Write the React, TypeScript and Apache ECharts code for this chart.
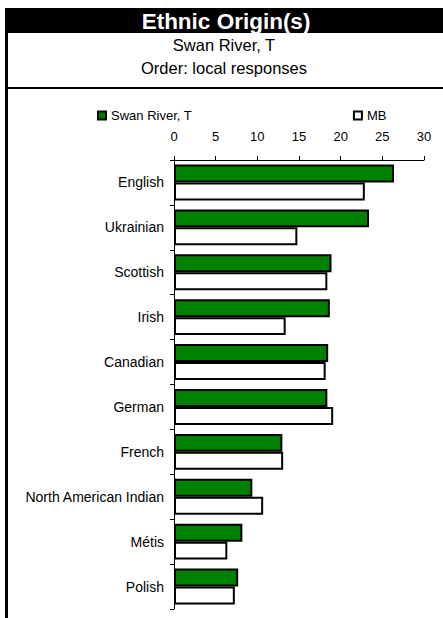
import React, { useEffect, useRef } from "react";
import * as echarts from "echarts";

const categories = [
  "English",
  "Ukrainian",
  "Scottish",
  "Irish",
  "Canadian",
  "German",
  "French",
  "North American Indian",
  "Métis",
  "Polish",
];
const localValues = [26.4, 23.4, 18.9, 18.7, 18.5, 18.4, 13.0, 9.4, 8.2, 7.7];
const mbValues = [22.9, 14.8, 18.4, 13.4, 18.2, 19.1, 13.1, 10.7, 6.4, 7.3];
const seriesNames = ["Swan River, T", "MB"];
const titleText = "Ethnic Origin(s)";
const subtitleLines = ["Swan River, T", "Order: local responses"];

const FONT = "Liberation Sans, Arial, sans-serif";

export default function App() {
  const ref = useRef<HTMLDivElement>(null);
  useEffect(() => {
    document.body.style.margin = "0";
    if (!ref.current) return;
    const chart = echarts.init(ref.current, undefined, { renderer: "svg" });
    chart.setOption({
      animation: false,
      backgroundColor: "#ffffff",
      textStyle: { fontFamily: FONT },
      legend: {
        left: 92,
        top: 104,
        itemWidth: 8,
        itemHeight: 8,
        itemGap: 161,
        icon: "rect",
        textStyle: { fontFamily: FONT, fontSize: 13, color: "#000" },
        data: seriesNames,
      },
      grid: { left: 174, top: 160, right: 19, bottom: 9, containLabel: false },
      xAxis: {
        type: "value",
        position: "top",
        min: 0,
        max: 30,
        interval: 5,
        splitLine: { show: false },
        axisLine: { show: true, lineStyle: { color: "#000", width: 1 } },
        axisTick: { show: true, inside: false, length: 4, lineStyle: { color: "#000" } },
        axisLabel: { fontFamily: FONT, fontSize: 13, color: "#000", margin: 17 },
      },
      yAxis: {
        type: "category",
        inverse: true,
        data: categories,
        axisLine: { show: true, lineStyle: { color: "#000", width: 1 } },
        axisTick: { show: true, inside: false, length: 4, lineStyle: { color: "#000" } },
        axisLabel: { fontFamily: FONT, fontSize: 14, color: "#000", margin: 10 },
      },
      series: [
        {
          name: seriesNames[0],
          type: "bar",
          data: localValues,
          barGap: "0%",
          barCategoryGap: "20%",
          itemStyle: { color: "#008000", borderColor: "#000", borderWidth: 2 },
        },
        {
          name: seriesNames[1],
          type: "bar",
          data: mbValues,
          barGap: "0%",
          barCategoryGap: "20%",
          itemStyle: { color: "#ffffff", borderColor: "#000", borderWidth: 2 },
        },
      ],
      graphic: [
        { type: "rect", shape: { x: 5, y: 8, width: 438, height: 25 }, style: { fill: "#000" } },
        { type: "rect", shape: { x: 5, y: 8, width: 3, height: 610 }, style: { fill: "#000" } },
        { type: "rect", shape: { x: 5, y: 87, width: 438, height: 2 }, style: { fill: "#000" } },
        {
          type: "text",
          x: 226,
          y: 21,
          style: {
            text: titleText,
            fill: "#fff",
            font: `bold 22.5px ${FONT}`,
            align: "center",
            verticalAlign: "middle",
          },
        },
        {
          type: "text",
          x: 224,
          y: 45,
          style: {
            text: subtitleLines[0],
            fill: "#000",
            font: `16.5px ${FONT}`,
            align: "center",
            verticalAlign: "middle",
          },
        },
        {
          type: "text",
          x: 224,
          y: 68,
          style: {
            text: subtitleLines[1],
            fill: "#000",
            font: `16.5px ${FONT}`,
            align: "center",
            verticalAlign: "middle",
          },
        },
      ],
    });
    return () => chart.dispose();
  }, []);
  return <div ref={ref} style={{ width: 443, height: 618 }} />;
}
